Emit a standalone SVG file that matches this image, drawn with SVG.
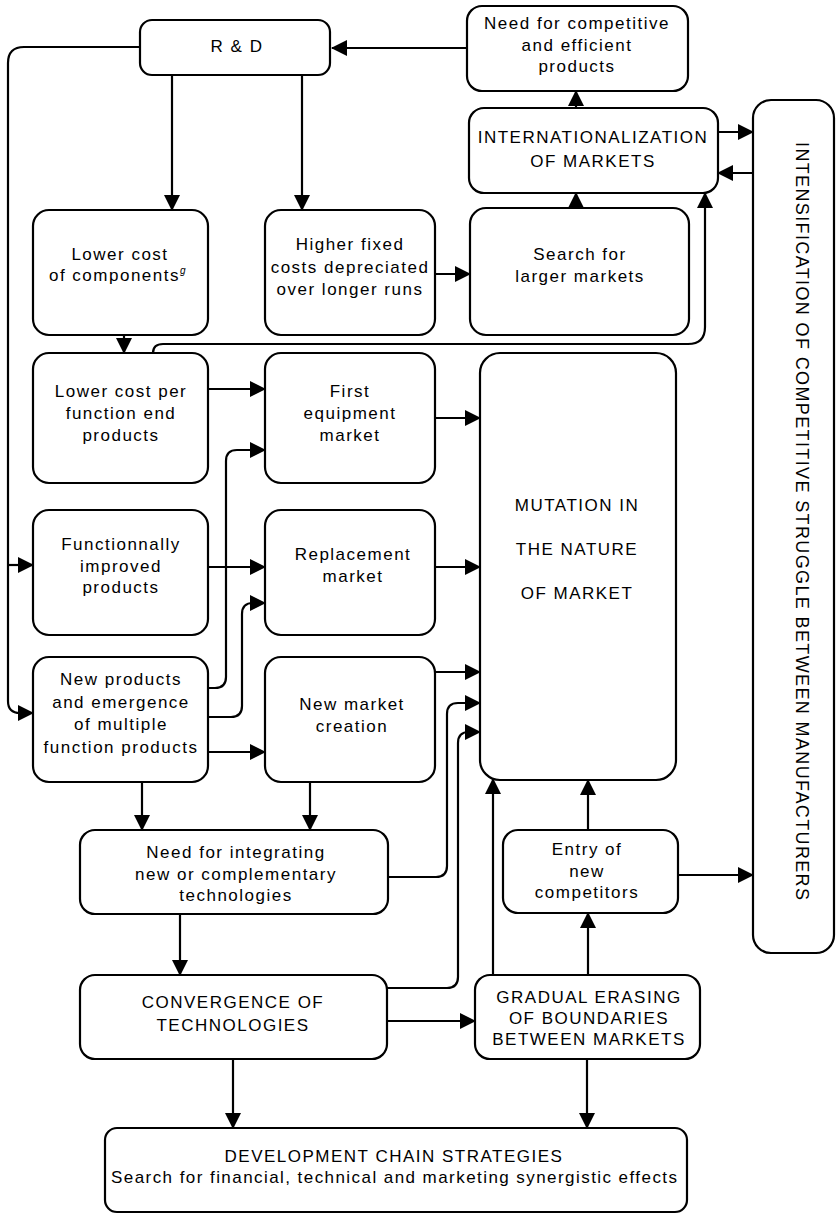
<svg xmlns="http://www.w3.org/2000/svg" width="836" height="1214" viewBox="0 0 836 1214">
<style>
.box{fill:#fff;stroke:#000;stroke-width:2.2}
.t{font-family:"Liberation Sans",Arial,sans-serif;font-size:17px;letter-spacing:1.5px;text-anchor:middle;fill:#000}
.c{fill:none;stroke:#000;stroke-width:2.2;marker-end:url(#ah)}
.n{fill:none;stroke:#000;stroke-width:2.2}
</style>
<defs>
<marker id="ah" markerUnits="userSpaceOnUse" markerWidth="16" markerHeight="16" viewBox="0 0 16 16" refX="15" refY="8" orient="auto">
<path d="M0,0 L16,8 L0,16 z" fill="#000"/>
</marker>
</defs>
<rect width="836" height="1214" fill="#fff"/>

<g id="connectors">
<path class="c" d="M467,48 H332"/>
<path class="c" d="M140,47 H24 Q8,47 8,63 V701 Q8,713 20,713 H33"/>
<path class="c" d="M8,565 H33"/>
<path class="c" d="M172,75 V210"/>
<path class="c" d="M302,75 V210"/>
<path class="c" d="M435,274 H470"/>
<path class="c" d="M576,208 V193"/>
<path class="c" d="M576,108 V91"/>
<path class="c" d="M718,132 H753"/>
<path class="c" d="M753,173 H718"/>
<path class="c" d="M124,335 V353"/>
<path class="c" d="M153,353 Q153,344 163,344 H688 Q705,344 705,327 V193"/>
<path class="c" d="M208,389 H265"/>
<path class="c" d="M208,688 H215 Q226,688 226,677 V461 Q226,450 237,450 H265"/>
<path class="c" d="M208,567 H265"/>
<path class="c" d="M208,717 H231 Q242,717 242,706 V614 Q242,603 253,603 H265"/>
<path class="c" d="M208,752 H265"/>
<path class="c" d="M435,418 H480"/>
<path class="c" d="M435,567 H480"/>
<path class="c" d="M435,672 H480"/>
<path class="c" d="M388,877 H436 Q447,877 447,866 V714 Q447,703 458,703 H480"/>
<path class="c" d="M387,988 H447 Q458,988 458,977 V743 Q458,732 469,732 H480"/>
<path class="c" d="M493,975 V779"/>
<path class="c" d="M588,830 V780"/>
<path class="c" d="M678,875 H753"/>
<path class="c" d="M588,975 V913"/>
<path class="c" d="M142,782 V830"/>
<path class="c" d="M310,782 V830"/>
<path class="c" d="M180,914 V975"/>
<path class="c" d="M387,1021 H475"/>
<path class="c" d="M233,1059 V1128"/>
<path class="c" d="M587,1059 V1128"/>
</g>

<g id="rd">
<rect class="box" x="140" y="20" width="190" height="55" rx="12"/>
<text class="t" x="237" y="52">R &amp; D</text>
</g>
<g id="need-competitive">
<rect class="box" x="467" y="6" width="221" height="85" rx="15"/>
<text class="t" x="577" y="29">Need for competitive</text>
<text class="t" x="577" y="51">and efficient</text>
<text class="t" x="577" y="72">products</text>
</g>
<g id="internationalization">
<rect class="box" x="469" y="108" width="249" height="85" rx="15"/>
<text class="t" x="593" y="143">INTERNATIONALIZATION</text>
<text class="t" x="593" y="167">OF MARKETS</text>
</g>
<g id="intensification">
<rect class="box" x="753" y="100" width="81" height="853" rx="18"/>
<text class="t" style="text-anchor:start;font-size:18px;letter-spacing:0" transform="translate(796,142) rotate(90)" textLength="758" lengthAdjust="spacing">INTENSIFICATION OF COMPETITIVE STRUGGLE BETWEEN MANUFACTURERS</text>
</g>
<g id="lower-cost-components">
<rect class="box" x="33" y="210" width="175" height="125" rx="16"/>
<text class="t" x="120" y="260">Lower cost</text>
<text class="t" x="118" y="281">of components<tspan font-size="10" font-style="italic" dy="-7">g</tspan></text>
</g>
<g id="higher-fixed">
<rect class="box" x="265" y="210" width="170" height="125" rx="16"/>
<text class="t" x="350" y="250">Higher fixed</text>
<text class="t" x="350" y="273">costs depreciated</text>
<text class="t" x="350" y="295">over longer runs</text>
</g>
<g id="search-larger">
<rect class="box" x="470" y="208" width="219" height="127" rx="16"/>
<text class="t" x="580" y="260">Search for</text>
<text class="t" x="580" y="282">larger markets</text>
</g>
<g id="lower-cost-function">
<rect class="box" x="33" y="353" width="175" height="130" rx="16"/>
<text class="t" x="121" y="397">Lower cost per</text>
<text class="t" x="121" y="419">function end</text>
<text class="t" x="121" y="441">products</text>
</g>
<g id="first-equipment">
<rect class="box" x="265" y="353" width="170" height="130" rx="16"/>
<text class="t" x="350" y="397">First</text>
<text class="t" x="350" y="419">equipment</text>
<text class="t" x="350" y="441">market</text>
</g>
<g id="mutation">
<rect class="box" x="480" y="353" width="196" height="427" rx="20"/>
<text class="t" x="577" y="511">MUTATION IN</text>
<text class="t" x="577" y="555">THE NATURE</text>
<text class="t" x="577" y="599">OF MARKET</text>
</g>
<g id="functionally-improved">
<rect class="box" x="33" y="510" width="175" height="125" rx="16"/>
<text class="t" x="121" y="550">Functionnally</text>
<text class="t" x="121" y="572">improved</text>
<text class="t" x="121" y="593">products</text>
</g>
<g id="replacement">
<rect class="box" x="265" y="510" width="170" height="125" rx="16"/>
<text class="t" x="353" y="560">Replacement</text>
<text class="t" x="353" y="582">market</text>
</g>
<g id="new-products">
<rect class="box" x="33" y="657" width="175" height="125" rx="16"/>
<text class="t" x="121" y="685">New products</text>
<text class="t" x="121" y="708">and emergence</text>
<text class="t" x="121" y="730">of multiple</text>
<text class="t" x="121" y="753">function products</text>
</g>
<g id="new-market">
<rect class="box" x="265" y="657" width="170" height="125" rx="16"/>
<text class="t" x="352" y="710">New market</text>
<text class="t" x="352" y="732">creation</text>
</g>
<g id="need-integrating">
<rect class="box" x="80" y="830" width="308" height="84" rx="15"/>
<text class="t" x="236" y="858">Need for integrating</text>
<text class="t" x="236" y="880">new or complementary</text>
<text class="t" x="236" y="901">technologies</text>
</g>
<g id="entry">
<rect class="box" x="503" y="830" width="175" height="83" rx="15"/>
<text class="t" x="587" y="855">Entry of</text>
<text class="t" x="587" y="877">new</text>
<text class="t" x="587" y="898">competitors</text>
</g>
<g id="convergence">
<rect class="box" x="80" y="975" width="307" height="84" rx="15"/>
<text class="t" x="233" y="1008">CONVERGENCE OF</text>
<text class="t" x="233" y="1031">TECHNOLOGIES</text>
</g>
<g id="gradual">
<rect class="box" x="475" y="975" width="225" height="84" rx="15"/>
<text class="t" x="589" y="1003">GRADUAL ERASING</text>
<text class="t" x="589" y="1024">OF BOUNDARIES</text>
<text class="t" x="589" y="1045">BETWEEN MARKETS</text>
</g>
<g id="development">
<rect class="box" x="105" y="1128" width="582" height="84" rx="12"/>
<text class="t" x="394" y="1162">DEVELOPMENT CHAIN STRATEGIES</text>
<text class="t" style="letter-spacing:0" x="394" y="1183" textLength="566" lengthAdjust="spacing">Search for financial, technical and marketing synergistic effects</text>
</g>
</svg>
